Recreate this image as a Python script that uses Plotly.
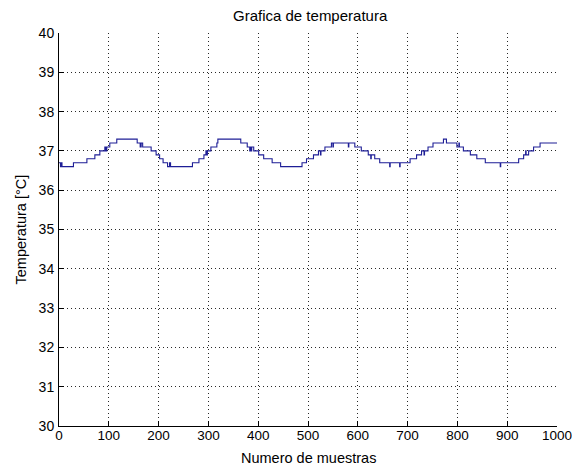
import numpy as np
import plotly.graph_objects as go

# Step signal: start sample of each run and its level
seg_start = [0, 3, 4, 6, 29, 56, 72, 82, 92, 94, 96, 102, 116, 157, 163, 165, 168, 185, 195, 202,
             209, 218, 222, 224, 268, 281, 291, 295, 296, 298, 305, 317, 319, 365, 378, 383, 384,
             386, 387, 391, 401, 411, 428, 445, 488, 497, 511, 521, 525, 526, 534, 547, 550, 551,
             581, 582, 594, 607, 621, 626, 627, 634, 644, 664, 665, 684, 685, 705, 718, 728, 733,
             734, 741, 751, 772, 778, 799, 803, 804, 812, 826, 839, 856, 886, 887, 923, 933, 937,
             938, 943, 953, 966]
seg_level = [36.7, 36.6, 36.7, 36.6, 36.7, 36.8, 36.9, 37.0, 37.1, 37.0, 37.1, 37.2, 37.3, 37.2,
             37.1, 37.2, 37.1, 37.0, 36.9, 36.8, 36.7, 36.6, 36.7, 36.6, 36.7, 36.8, 36.9, 37.0,
             36.9, 37.0, 37.1, 37.2, 37.3, 37.2, 37.1, 37.0, 37.1, 37.0, 37.1, 37.0, 36.9, 36.8,
             36.7, 36.6, 36.7, 36.8, 36.9, 37.0, 36.9, 37.0, 37.1, 37.2, 37.1, 37.2, 37.1, 37.2,
             37.1, 37.0, 36.9, 36.8, 36.9, 36.8, 36.7, 36.6, 36.7, 36.6, 36.7, 36.8, 36.9, 37.0,
             36.9, 37.0, 37.1, 37.2, 37.3, 37.2, 37.1, 37.2, 37.1, 37.0, 36.9, 36.8, 36.7, 36.6,
             36.7, 36.8, 36.9, 37.0, 36.9, 37.0, 37.1, 37.2]
n_samples = 1001

x_ticks = list(range(0, 1001, 100))
y_ticks = list(range(30, 41))

title_text = "Grafica de temperatura"
x_title = "Numero de muestras"
y_title = "Temperatura [°C]"

bounds = seg_start[1:] + [n_samples]
temps = []
for s, e, v in zip(seg_start, bounds, seg_level):
    temps += [v] * (e - s)
samples = np.arange(n_samples)

fig = go.Figure()
fig.add_trace(go.Scatter(x=samples, y=temps, mode="lines", line_shape="hv",
                         line=dict(color="rgb(30,30,150)", width=1.1), showlegend=False))

font = "Liberation Sans, Arial, sans-serif"
axis_common = dict(showgrid=True, gridcolor="rgb(40,40,40)", griddash="1px,3px", gridwidth=1,
                   ticks="inside", ticklen=5, tickcolor="black", tickwidth=1,
                   showline=True, linecolor="black", linewidth=1, mirror=False,
                   zeroline=False, automargin=False, ticklabeloverflow="allow")

fig.update_layout(
    width=572, height=468,
    margin=dict(l=59, r=15, t=33, b=42),
    paper_bgcolor="white", plot_bgcolor="white",
    xaxis=dict(range=[0, 1000], tickvals=x_ticks, ticklabelstandoff=-3,
               tickfont=dict(family=font, size=13.5, color="black"), **axis_common),
    yaxis=dict(range=[30, 40], tickvals=y_ticks, ticklabelstandoff=1,
               tickfont=dict(family=font, size=14, color="black"), **axis_common),
    annotations=[
        dict(text=title_text, xref="paper", yref="paper", x=0.506, y=1, yshift=18,
             xanchor="center", yanchor="middle", showarrow=False,
             font=dict(family=font, size=15, color="black")),
        dict(text=x_title, xref="paper", yref="paper", x=0.5, y=0, yshift=-32,
             xanchor="center", yanchor="middle", showarrow=False,
             font=dict(family=font, size=14.5, color="black")),
        dict(text=y_title, xref="paper", yref="paper", x=0, y=0.5, xshift=-39,
             xanchor="center", yanchor="middle", textangle=-90, showarrow=False,
             font=dict(family=font, size=14.5, color="black")),
    ],
)
# remove the browser's default body margin so the figure fills the window exactly
fig.write_html("out.html", config={"displayModeBar": False},
               post_script="document.body.style.margin='0';document.body.style.overflow='hidden';")
